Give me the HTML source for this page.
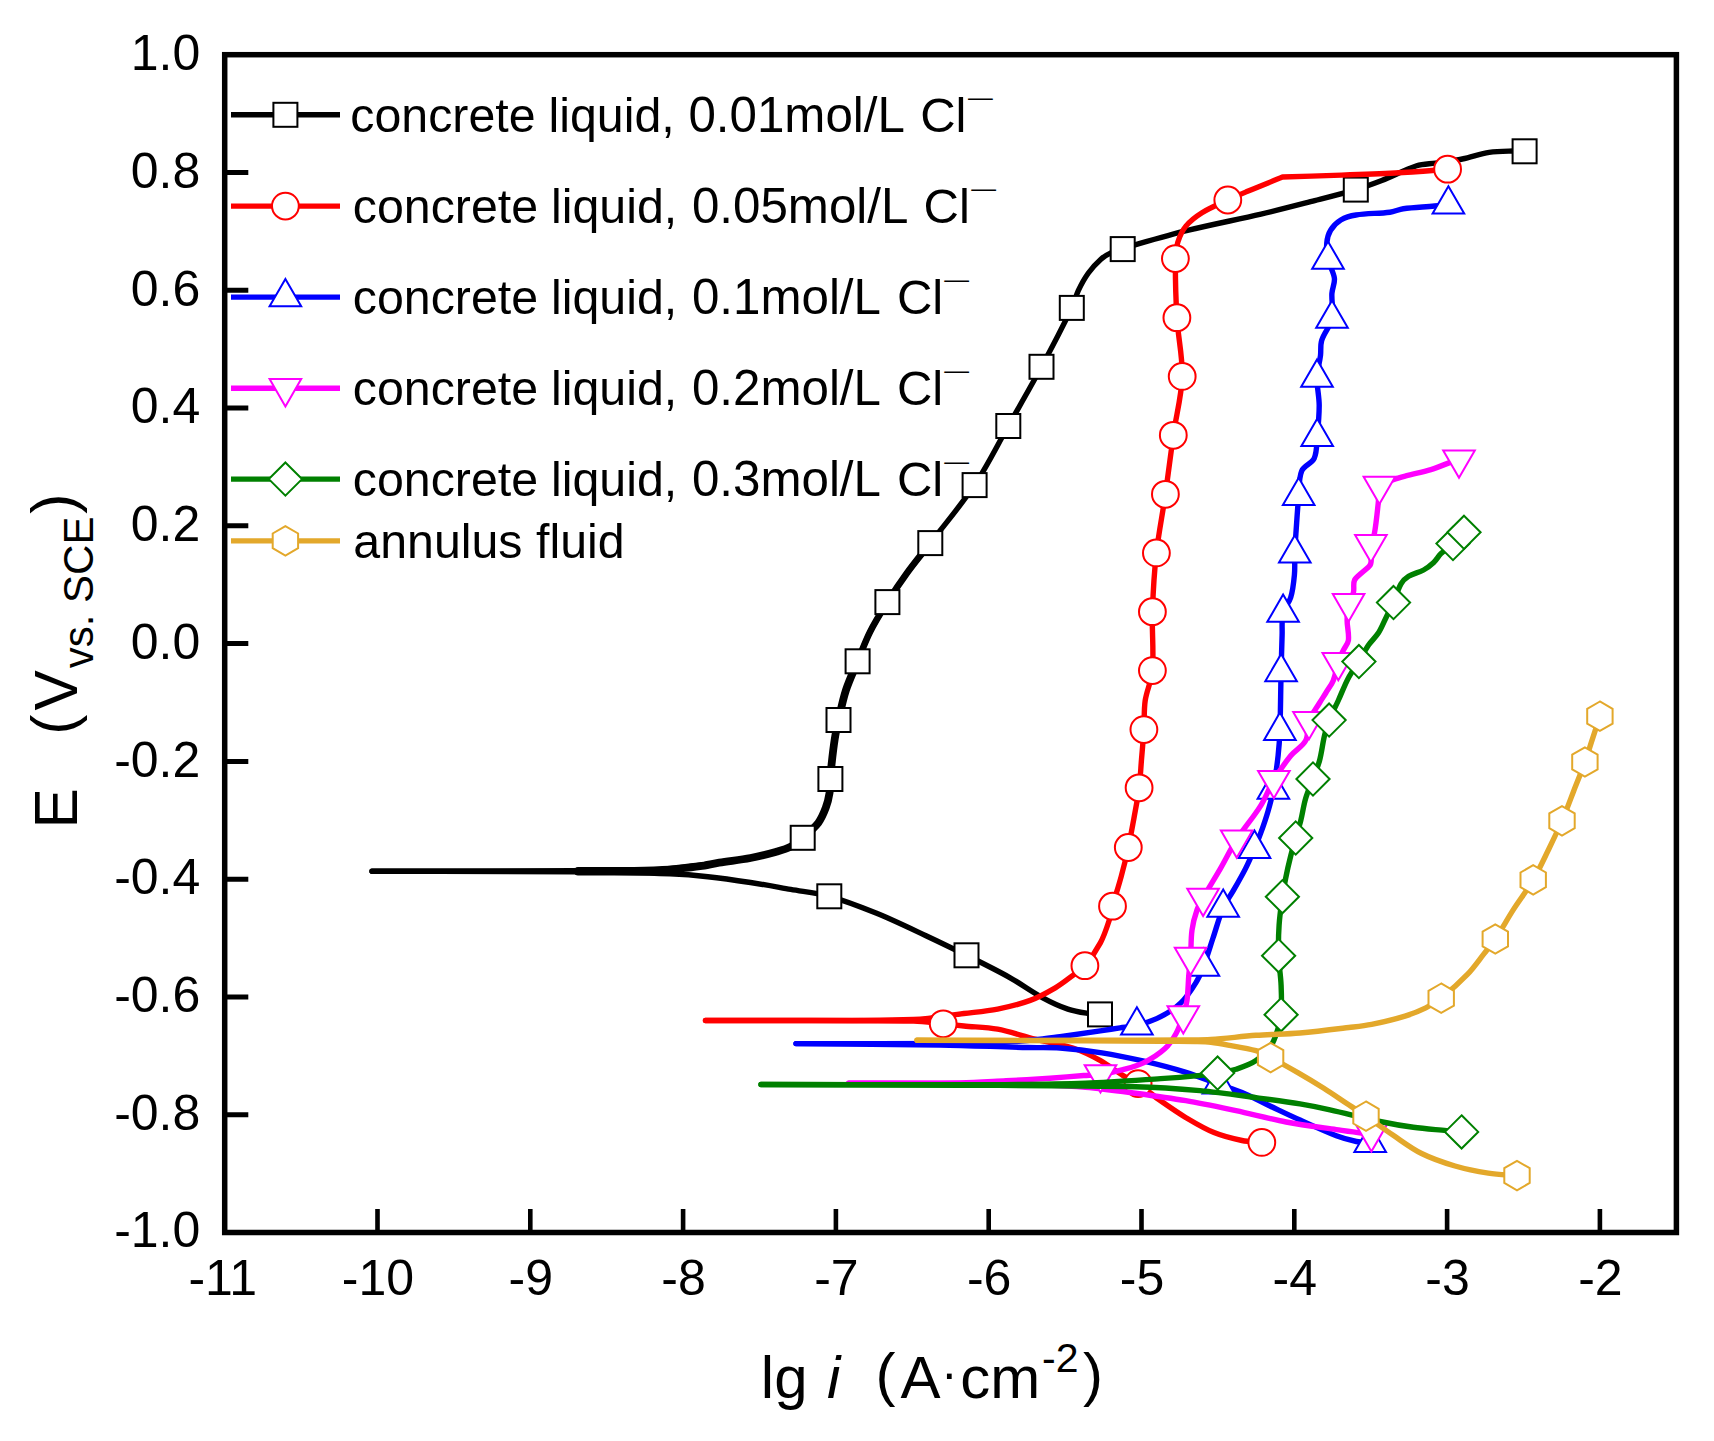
<!DOCTYPE html>
<html lang="en"><head><meta charset="utf-8"><title>Polarization curves</title>
<style>html,body{margin:0;padding:0;background:#fff}body{width:1714px;height:1441px;overflow:hidden}svg{display:block}text{font-family:"Liberation Sans",sans-serif;fill:#000}.tk{font-size:50px}.lg{font-size:49px}.ax{font-size:60px}.sub{font-size:42px}.ln{fill:none;stroke-width:5.4;stroke-linejoin:round;stroke-linecap:round}.mk{fill:#fff;stroke-width:2.0;stroke-linejoin:miter}</style></head><body>
<svg width="1714" height="1441" viewBox="0 0 1714 1441">
<rect width="1714" height="1441" fill="#fff"/>
<g stroke="#000000">
<path class="ln" d="M372 871.2C439 871.4 506 871.2 573 871.8C605.3 872.1 637.7 872.6 670 873.8C682.7 874.3 695.3 875.3 707.9 876.7C722.1 878.2 736.3 880.3 750.5 882.5C763.9 884.5 777.3 887 790.7 889.3C803.6 891.6 816.7 892.8 829.3 896.3C845.2 900.7 860.7 906.8 876 913C893 919.9 909.4 927.9 926 935.7C939.6 942.1 953.1 948.6 966.5 955.3C981.2 962.6 995.9 969.8 1010.2 977.8C1021.3 984 1031.6 991.7 1042.8 997.8C1050.9 1002.2 1059.2 1006.1 1067.9 1009.1C1074.4 1011.3 1081.2 1012.3 1088 1013.4C1092 1014.1 1096 1014.1 1100 1014.4"/>
<path class="ln" d="M372 871.2C439 871 506 871.2 573 870.6C605.3 870.3 637.7 870.2 670 868.5C686.5 867.6 702.8 864.8 719.2 862.7C729.7 861.3 740.1 860 750.5 858C759 856.4 767.3 854.3 775.6 852C780.7 850.5 786 849.1 790.7 846.6C795.1 844.3 798.9 841 802.7 837.8C808.2 833.1 813.9 828.5 818.3 822.8C821.7 818.3 823.8 813 825.8 807.7C827.6 802.9 828.8 797.8 829.6 792.7C830.3 788.2 830.1 783.6 830.4 779C830.7 774.3 831 769.7 831.5 765C832.4 756.7 833.3 748.3 834.6 740C835.6 733.3 837 726.6 838.5 720C840.8 710 842.8 699.8 846 690C849.2 680.2 853.7 670.8 857.6 661.3C861.7 651.5 865.2 641.5 870 632C875.2 621.7 881.3 611.9 887.4 602.1C893.6 592.2 900.1 582.5 907 573C914.4 562.8 922.6 553.1 930.3 543.1C945.1 523.8 961.1 505.3 974.6 485.1C987.2 466.2 997.1 445.7 1008.3 426C1019.4 406.3 1030.8 386.7 1041.5 366.8C1052 347.4 1062.2 327.8 1071.8 307.9C1074.5 302.4 1075.7 296.2 1078.3 290.6C1081.2 284.5 1084.4 278.5 1088.4 273C1092 268 1096.3 263.3 1100.9 259.2C1103.8 256.6 1107.3 254.6 1110.9 252.9C1114.6 251.2 1118.8 250.4 1122.7 249.1C1126.8 247.7 1130.8 246.1 1134.9 244.9C1152.7 239.8 1170.6 234.6 1188.6 230.2C1212.6 224.3 1236.9 219.7 1261 214.1C1279 209.9 1296.8 205.2 1314.7 200.6C1328.4 197.1 1342.2 193.7 1355.8 189.6C1364.6 187 1373.2 183.8 1381.8 180.5C1393.6 175.9 1404.7 169.7 1416.7 165.8C1422.7 163.8 1429.2 164 1435.5 163.1C1444.4 161.8 1453.4 160.8 1462.3 159C1471.4 157.2 1480.1 153.7 1489.2 152.3C1497.1 151.1 1505.3 151.2 1513.3 151C1517.1 150.9 1520.8 151.2 1524.6 151.3"/>
<path class="ln" style="stroke-width:7.8" d="M668 869.8C678.7 868.6 689.4 867.7 700 866.2C706.4 865.3 712.8 863.7 719.2 862.7C729.6 861 740.1 860 750.5 858C759 856.4 767.3 854.3 775.6 852C780.7 850.5 786 849.1 790.7 846.6C795.1 844.3 798.9 841 802.7 837.8C808.2 833.1 813.9 828.5 818.3 822.8C821.7 818.3 823.8 813 825.8 807.7C827.6 802.9 828.8 797.8 829.6 792.7C830.3 788.2 830.1 783.6 830.4 779C830.7 774.3 831 769.7 831.5 765C832.4 756.7 833.3 748.3 834.6 740C835.6 733.3 837 726.6 838.5 720C840.8 710 842.8 699.8 846 690C849.2 680.2 853.7 670.9 857.6 661.3"/>
<path class="ln" style="stroke-width:6.6" d="M857.6 661.3C861.7 651.5 865.2 641.5 870 632C875.2 621.7 881.3 611.9 887.4 602.1C893.6 592.2 900.1 582.5 907 573C914.4 562.8 922.5 553.1 930.3 543.1"/>
<path class="ln" style="stroke-width:8.4" d="M578 871.2H668"/>
<g class="mk"><rect x="817.3" y="884.3" width="24" height="24"/><rect x="954.5" y="943.3" width="24" height="24"/><rect x="1088" y="1002.4" width="24" height="24"/><rect x="790.7" y="825.8" width="24" height="24"/><rect x="818.4" y="767" width="24" height="24"/><rect x="826.5" y="708" width="24" height="24"/><rect x="845.6" y="649.3" width="24" height="24"/><rect x="875.4" y="590.1" width="24" height="24"/><rect x="918.3" y="531.1" width="24" height="24"/><rect x="962.6" y="473.1" width="24" height="24"/><rect x="996.3" y="414" width="24" height="24"/><rect x="1029.5" y="354.8" width="24" height="24"/><rect x="1059.8" y="295.9" width="24" height="24"/><rect x="1110.7" y="237.1" width="24" height="24"/><rect x="1343.8" y="177.6" width="24" height="24"/><rect x="1512.6" y="139.3" width="24" height="24"/></g>
</g>
<g stroke="#FF0000">
<path class="ln" d="M705.5 1020.5C774.9 1020.7 844.2 1020 913.6 1021C923.5 1021.1 933.3 1022.8 943.2 1023.8C950.1 1024.5 956.9 1025.3 963.8 1026C975.1 1027.1 986.5 1027.1 997.6 1029.2C1010.4 1031.6 1022.7 1036.1 1035.3 1039.2C1047.8 1042.3 1060.7 1044 1072.9 1048C1082.5 1051.2 1091.6 1055.7 1100.5 1060.6C1108.4 1065 1115.4 1070.9 1123.1 1075.6C1127.9 1078.6 1133.3 1080.6 1138.1 1083.6C1142.7 1086.5 1146.7 1090.1 1151 1093.4C1153.4 1095.2 1155.5 1097.3 1158 1099C1167.2 1105.4 1176.4 1111.9 1186 1117.7C1195.1 1123.1 1204.2 1128.6 1214 1132.6C1223 1136.3 1232.5 1138.6 1242 1140.5C1248.5 1141.8 1255.2 1141.8 1261.8 1142.4"/>
<path class="ln" d="M705.5 1020.5C774.9 1020.2 844.3 1021.4 913.6 1019.5C930.4 1019 947.1 1015.6 963.8 1013.5C975.1 1012.1 986.5 1011.3 997.6 1009.1C1008.6 1006.9 1019.6 1004.3 1030.2 1000.4C1039 997.2 1047.2 992.5 1055.3 987.8C1061.5 984.2 1067.1 979.6 1072.9 975.3C1077 972.2 1081.6 969.6 1084.9 965.7C1090.9 958.6 1096.1 950.8 1100.5 942.6C1104.3 935.5 1106.8 927.7 1109.3 920C1110.8 915.5 1111.3 910.8 1112.5 906.2C1115.3 896.1 1118.6 886.2 1121.3 876.1C1123.9 866.6 1126.2 857.1 1128.3 847.5C1130.4 837.8 1132.1 828.1 1133.9 818.4C1135.7 808.2 1137.8 798.1 1139.1 787.8C1140.3 778.8 1140.7 769.7 1141.4 760.7C1142.3 750.3 1143.2 740 1143.9 729.6C1144.5 719.9 1143.8 710.1 1145.2 700.5C1146.7 690.4 1151.6 680.8 1152.4 670.6C1154 651 1151.7 631.3 1152.4 611.7C1153.1 592.1 1154.2 572.4 1156.4 552.9C1158.6 533.3 1162.6 513.9 1165.4 494.3C1168.2 474.7 1170.5 454.9 1173.3 435.3C1176.1 415.6 1181.6 396.2 1182.2 376.4C1182.8 356.8 1178 337.3 1176.9 317.7C1175.8 298 1175.2 278.3 1175.4 258.6C1175.5 253.1 1176.1 247.5 1177.8 242.2C1179.6 236.5 1182.1 230.7 1185.9 226.1C1190.3 220.7 1196.1 216.4 1202 212.7C1210.1 207.6 1219.1 204.1 1227.8 200C1234.3 196.9 1241 194.1 1247.6 191.3C1259.2 186.4 1270.9 181.8 1282.5 177C1302.2 176.4 1321.8 175.8 1341.5 175.1C1359.4 174.5 1377.3 173.9 1395.2 173C1408.6 172.3 1422.1 171.3 1435.5 170.3C1439.5 170 1443.6 169.6 1447.6 169.2"/>
<g class="mk"><circle cx="943.2" cy="1023.8" r="13.4"/><circle cx="1138.1" cy="1083.6" r="13.4"/><circle cx="1261.8" cy="1142.4" r="13.4"/><circle cx="1084.9" cy="965.7" r="13.4"/><circle cx="1112.5" cy="906.2" r="13.4"/><circle cx="1128.3" cy="847.5" r="13.4"/><circle cx="1139.1" cy="787.8" r="13.4"/><circle cx="1143.9" cy="729.6" r="13.4"/><circle cx="1152.4" cy="670.6" r="13.4"/><circle cx="1152.4" cy="611.7" r="13.4"/><circle cx="1156.4" cy="552.9" r="13.4"/><circle cx="1165.4" cy="494.3" r="13.4"/><circle cx="1173.3" cy="435.3" r="13.4"/><circle cx="1182.2" cy="376.4" r="13.4"/><circle cx="1176.9" cy="317.7" r="13.4"/><circle cx="1175.4" cy="258.6" r="13.4"/><circle cx="1227.8" cy="200" r="13.4"/><circle cx="1447.6" cy="169.2" r="13.4"/></g>
</g>
<g stroke="#0000FF">
<path class="ln" d="M796 1043.6C844 1044.1 892 1044.2 940 1045C969.3 1045.5 998.7 1046.8 1028 1047.5C1038.7 1047.8 1049.4 1047.2 1060 1048C1074.1 1049 1088.1 1050.6 1102 1052.8C1116.1 1055 1130.1 1058 1144 1061.2C1158.1 1064.5 1172.2 1068.1 1186 1072.4C1197 1075.8 1207.6 1080.4 1218.4 1084.3C1226.2 1087.1 1234.3 1089.3 1242 1092.5C1251.6 1096.5 1260.6 1101.6 1270 1106C1280 1110.7 1289.9 1115.5 1300 1120C1312 1125.4 1324 1131.1 1336.3 1135.8C1342.8 1138.3 1349.6 1140.1 1356.4 1141.5C1360.9 1142.4 1365.6 1142.4 1370.2 1142.8"/>
<path class="ln" d="M796 1043.6C850.7 1043.6 905.3 1043.8 960 1043.5C973.3 1043.4 986.7 1043.2 1000 1042.5C1013.4 1041.8 1026.7 1040.6 1040 1039.3C1046.7 1038.7 1053.3 1037.6 1060 1036.7C1074 1034.7 1088 1032.7 1102 1030.6C1108 1029.7 1114 1028.8 1120 1027.9C1125.6 1027.1 1131.4 1026.9 1136.9 1025.4C1145 1023.2 1153.2 1020.6 1160.7 1016.7C1167.9 1013 1175 1008.5 1180.8 1002.9C1186.8 997.1 1191.4 989.9 1195.8 982.8C1198.9 977.8 1201.3 972.2 1203.4 966.7C1207 957.3 1209.8 947.6 1213 938C1216.4 927.9 1219 917.5 1223.2 907.7C1225.7 901.8 1229.8 896.8 1233 891.2C1237.3 883.7 1241.6 876.3 1245.5 868.6C1248.8 862.1 1251.6 855.5 1254.5 848.8C1256.7 843.7 1258.7 838.6 1260.6 833.4C1263.3 826 1265.9 818.5 1268.1 810.9C1270.2 803.9 1272.1 796.8 1273.4 789.6C1275.4 778.4 1276.8 767 1278.1 755.7C1279 747.4 1279.6 739.1 1279.9 730.8C1280.6 711.2 1280.6 691.7 1281.1 672.1C1281.4 659.8 1281.7 647.6 1282.1 635.3C1282.4 627.8 1281.4 620.1 1283.1 612.7C1284.4 607.2 1289.1 603 1290.7 597.6C1292.9 590.3 1293.7 582.6 1294.4 575C1295.1 567.9 1294.5 560.7 1294.8 553.5C1295 546.9 1295.5 540.2 1295.9 533.6C1296.8 521.1 1297.5 508.5 1298.7 496C1299.5 487.6 1298.5 478.7 1301.7 470.9C1303.9 465.4 1311.7 463.7 1314.2 458.3C1317.2 451.8 1316.5 444.1 1317.2 437C1318.2 426.6 1319.2 416.1 1319.2 405.6C1319.2 396.2 1316.8 387 1317 377.6C1317.2 370.1 1319.6 362.9 1320.5 355.5C1321.1 350.5 1320.2 345.2 1321.7 340.4C1324.1 332.7 1330.3 326.5 1332 318.6C1333.8 310.4 1331.4 301.9 1331.9 293.5C1332.2 288.4 1335 283.4 1334.4 278.3C1333.6 271.8 1329.4 266 1328 259.6C1326.8 254.1 1326.3 248.4 1326.8 242.8C1327.2 238.4 1328.3 233.9 1330.6 230.2C1333.1 226.1 1336.7 222.5 1340.8 220C1345.4 217.3 1350.7 215.8 1356 215C1367.2 213.2 1378.7 213.7 1389.9 212.2C1394.5 211.6 1398.7 209.3 1403.3 208.7C1413.6 207.3 1424.1 207 1434.5 206C1439.1 205.6 1443.8 204.9 1448.4 204.4"/>
<g class="mk"><path d="M1218.4 1066.1L1234.2 1093.4L1202.6 1093.4Z"/><path d="M1370.2 1124.6L1386 1151.9L1354.4 1151.9Z"/><path d="M1136.9 1007.2L1152.7 1034.5L1121.1 1034.5Z"/><path d="M1203.4 948.5L1219.2 975.8L1187.6 975.8Z"/><path d="M1223.2 889.5L1239 916.8L1207.4 916.8Z"/><path d="M1254.5 830.6L1270.3 857.9L1238.7 857.9Z"/><path d="M1273.4 771.4L1289.2 798.7L1257.6 798.7Z"/><path d="M1279.9 712.6L1295.7 739.9L1264.1 739.9Z"/><path d="M1281.1 653.9L1296.9 681.2L1265.3 681.2Z"/><path d="M1283.1 594.5L1298.9 621.8L1267.3 621.8Z"/><path d="M1294.8 535.3L1310.6 562.6L1279 562.6Z"/><path d="M1298.7 477.8L1314.5 505.1L1282.9 505.1Z"/><path d="M1317.2 418.8L1333 446.1L1301.4 446.1Z"/><path d="M1317 359.4L1332.8 386.7L1301.2 386.7Z"/><path d="M1332 300.4L1347.8 327.7L1316.2 327.7Z"/><path d="M1328 241.4L1343.8 268.7L1312.2 268.7Z"/><path d="M1448.4 186.2L1464.2 213.5L1432.6 213.5Z"/></g>
</g>
<g stroke="#FF00FF">
<path class="ln" d="M848.7 1083.1C885.8 1083.2 922.9 1083 960 1083.4C988.7 1083.7 1017.3 1084.1 1046 1085C1059.1 1085.4 1072.3 1086 1085.4 1087.2C1102.2 1088.7 1118.9 1091 1135.6 1093.2C1152.4 1095.5 1169.1 1097.8 1185.8 1100.7C1202.6 1103.6 1219.3 1107.2 1236 1110.7C1252.7 1114.3 1269.3 1118.8 1286.1 1122C1302.7 1125.1 1319.6 1127.2 1336.3 1129.6C1344.7 1130.8 1353 1132.1 1361.4 1133C1364.7 1133.3 1368.1 1133.2 1371.4 1133.3"/>
<path class="ln" d="M848.7 1083.1C885.8 1083.1 922.9 1083.5 960 1083C975.3 1082.8 990.7 1081.6 1006 1080.8C1020.7 1080 1035.3 1079.2 1050 1078.2C1061.2 1077.4 1072.5 1076.3 1083.7 1075.5C1089.3 1075.1 1095 1075.2 1100.5 1074.4C1108.1 1073.3 1115.6 1071.6 1123 1069.6C1130.1 1067.7 1137.4 1065.9 1144 1062.6C1151.5 1058.8 1158.8 1054.3 1165 1048.6C1169.7 1044.3 1173.1 1038.8 1176.2 1033.2C1179.3 1027.6 1181.3 1021.5 1183.3 1015.4C1184.9 1010.5 1186.3 1005.5 1187 1000.4C1188.1 992.1 1188.1 983.7 1188.8 975.3C1189.3 969.2 1190.2 963 1190.6 956.9C1191.2 948 1190.8 939 1192 930.1C1192.9 923.3 1194.7 916.5 1197 910C1198.5 905.7 1200.9 901.8 1203.1 897.9C1208.7 888 1214.7 878.4 1220.4 868.6C1225.9 859 1230.7 848.9 1236.7 839.5C1244.1 827.9 1253.3 817.6 1260.6 805.9C1265.7 797.7 1268.9 788.3 1273.9 780C1279 771.6 1284.5 763.4 1290.7 755.7C1295.2 750.2 1302.4 746.9 1305.7 740.6C1308.8 734.8 1306.7 727.3 1309 721.1C1311.4 714.6 1315.9 709 1319.5 703C1321.5 699.6 1323.7 696.4 1325.8 693C1328.3 688.8 1331.5 684.9 1333.3 680.4C1335.7 674.5 1336.3 668.1 1338.3 662.1C1339.6 658 1341.5 654.2 1343.3 650.3C1344.9 646.9 1347.9 644 1348.4 640.3C1349.2 633.6 1347.1 626.9 1347.1 620.2C1347.1 614.5 1347.3 608.7 1348.6 603.2C1349.5 599.4 1352.4 596.4 1353.4 592.6C1354.5 588.5 1352.8 583.8 1354.6 580C1356.4 576.3 1360.5 574.2 1363.4 571.3C1365.9 568.8 1369.8 567.1 1370.7 563.7C1372.4 557.4 1370.1 550.6 1370.9 544.1C1371.4 540.4 1373.7 537.2 1374.4 533.6C1376.2 523.6 1377.1 513.6 1378.2 503.5C1378.8 497.7 1379 491.8 1379.4 485.9C1384 483.8 1388.5 481.5 1393.2 479.7C1397.3 478.1 1401.6 477 1405.8 475.9C1414.1 473.7 1422.6 472.1 1430.9 469.6C1437.7 467.5 1444.3 464.5 1451 462.1C1453.6 461.2 1456.3 460.4 1459 459.6"/>
<g class="mk"><path d="M1371.4 1151.5L1387.2 1124.2L1355.6 1124.2Z"/><path d="M1100.5 1092.6L1116.3 1065.3L1084.7 1065.3Z"/><path d="M1183.3 1033.6L1199.1 1006.3L1167.5 1006.3Z"/><path d="M1190.6 975.1L1206.4 947.8L1174.8 947.8Z"/><path d="M1203.1 916.1L1218.9 888.8L1187.3 888.8Z"/><path d="M1236.7 857.7L1252.5 830.4L1220.9 830.4Z"/><path d="M1273.9 798.2L1289.7 770.9L1258.1 770.9Z"/><path d="M1309 739.3L1324.8 712L1293.2 712Z"/><path d="M1338.3 680.3L1354.1 653L1322.5 653Z"/><path d="M1348.6 621.4L1364.4 594.1L1332.8 594.1Z"/><path d="M1370.9 562.3L1386.7 535L1355.1 535Z"/><path d="M1379.4 504.1L1395.2 476.8L1363.6 476.8Z"/><path d="M1459 477.8L1474.8 450.5L1443.2 450.5Z"/></g>
</g>
<g stroke="#008000">
<path class="ln" d="M761 1084.5C827.3 1084.7 893.7 1084.8 960 1085.2C1018.5 1085.5 1077.1 1085.4 1135.6 1086.7C1157.1 1087.2 1178.6 1088.7 1200 1090.6C1218.7 1092.3 1237.4 1095.1 1256 1097.6C1270.7 1099.6 1285.4 1101.5 1300 1103.9C1310.1 1105.6 1320 1107.6 1330 1109.8C1346.7 1113.5 1363.2 1118 1380 1121.5C1391 1123.8 1402.1 1125.8 1413.3 1127.3C1424.4 1128.8 1435.5 1129.5 1446.6 1130.6C1451.6 1131.1 1456.6 1131.5 1461.6 1131.9"/>
<path class="ln" d="M761 1084.5C827.3 1084.6 893.7 1085.1 960 1084.8C1001.8 1084.6 1043.6 1084.4 1085.4 1083.1C1110.5 1082.3 1135.6 1080.3 1160.7 1078.6C1173.2 1077.8 1185.8 1076.8 1198.3 1075.6C1204.8 1075 1211.2 1074.2 1217.6 1073.1C1223.8 1072.1 1230 1071.2 1236 1069.3C1242.9 1067 1250 1064.7 1256 1060.6C1261.9 1056.6 1267 1051.3 1271.1 1045.5C1274.2 1041.1 1275.7 1035.7 1277.4 1030.5C1279.1 1025.4 1280.7 1020.1 1281.1 1014.7C1281.9 1004.9 1281.5 995.1 1281.1 985.3C1280.7 975.4 1278.9 965.6 1278.6 955.7C1278.3 945.5 1278.4 935.3 1279.1 925.1C1279.7 915.6 1281.1 906.1 1282.4 896.7C1283.2 890.6 1284.4 884.6 1285.6 878.6C1287.1 871 1288.8 863.5 1290.7 856C1292.2 850 1294 844 1295.7 838C1297.3 832.3 1299.2 826.7 1300.7 820.9C1302.6 813.4 1303.5 805.7 1305.7 798.3C1307.6 791.7 1310.6 785.5 1313 779C1315.2 772.9 1317.8 767 1319.5 760.7C1321.7 752.5 1322.5 743.9 1324.5 735.6C1325.7 730.4 1327.1 725.1 1329.1 720.1C1331.7 713.4 1335.3 707.1 1338.3 700.5C1341.7 693 1344.5 685.2 1348.4 677.9C1351.4 672.2 1355.5 667.1 1358.9 661.6C1362.2 656.2 1364.9 650.5 1368.4 645.3C1371.4 640.9 1375.6 637.3 1378.5 632.8C1381.5 628.1 1383.5 622.7 1386 617.7C1388.5 612.7 1391.2 607.7 1393.5 602.6C1396.2 596.4 1397.6 589.7 1401 583.8C1402.8 580.7 1405.6 578.2 1408.6 576.3C1413.2 573.5 1418.8 572.6 1423.6 570C1427.3 568 1430.6 565.4 1433.7 562.5C1436.5 559.9 1438.2 556.4 1440.9 553.7C1444.7 550 1449.1 547.2 1453 543.6C1456.9 540 1460.3 536.1 1464 532.3"/>
<g class="mk"><path d="M1461.6 1115.3L1478.2 1131.9L1461.6 1148.5L1445 1131.9Z"/><path d="M1217.6 1056.5L1234.2 1073.1L1217.6 1089.7L1201 1073.1Z"/><path d="M1281.1 998.1L1297.7 1014.7L1281.1 1031.3L1264.5 1014.7Z"/><path d="M1278.6 939.1L1295.2 955.7L1278.6 972.3L1262 955.7Z"/><path d="M1282.4 880.1L1299 896.7L1282.4 913.3L1265.8 896.7Z"/><path d="M1295.7 821.4L1312.3 838L1295.7 854.6L1279.1 838Z"/><path d="M1313 762.4L1329.6 779L1313 795.6L1296.4 779Z"/><path d="M1329.1 703.5L1345.7 720.1L1329.1 736.7L1312.5 720.1Z"/><path d="M1358.9 645L1375.5 661.6L1358.9 678.2L1342.3 661.6Z"/><path d="M1393.5 586L1410.1 602.6L1393.5 619.2L1376.9 602.6Z"/><path d="M1453 527L1469.6 543.6L1453 560.2L1436.4 543.6Z"/><path d="M1464 515.7L1480.6 532.3L1464 548.9L1447.4 532.3Z"/></g>
</g>
<g stroke="#E3A82B">
<path class="ln" d="M917 1040.3C973.1 1040.5 1029.3 1040.6 1085.4 1040.8C1110.5 1040.9 1135.6 1041 1160.7 1041.2C1172.1 1041.3 1183.6 1041.4 1195 1041.6C1200.3 1041.7 1205.7 1041.7 1211 1042.3C1216.7 1042.9 1222.4 1044 1228 1045.1C1237.4 1046.8 1246.9 1048 1256 1050.7C1261.2 1052.2 1265.8 1055.1 1270.6 1057.6C1280.1 1062.6 1289.4 1067.8 1298.7 1073.1C1307.2 1078 1315.5 1083 1323.8 1088.2C1331.4 1093 1338.9 1098.2 1346.4 1103.2C1352.9 1107.5 1359.5 1111.8 1366 1116.2C1374.9 1122.3 1383.5 1128.8 1392.5 1134.8C1402.1 1141.2 1411.3 1148.4 1421.6 1153.5C1432.2 1158.8 1443.6 1162.6 1455 1166C1465.9 1169.2 1477.1 1171.4 1488.3 1173.1C1497.8 1174.6 1507.4 1174.8 1517 1175.6"/>
<path class="ln" d="M917 1040.3C931.3 1040.3 945.7 1040.4 960 1040.4C1001.8 1040.4 1043.6 1040.4 1085.4 1040.3C1118.9 1040.2 1152.3 1040.2 1185.8 1040C1194.2 1039.9 1202.6 1040.1 1211 1039.5C1226 1038.5 1241 1036.4 1256 1035.3C1270.6 1034.2 1285.4 1034.2 1300 1033C1316.3 1031.6 1332.6 1029.5 1348.9 1027.5C1356.5 1026.6 1364.1 1025.9 1371.6 1024.4C1382.8 1022.1 1394 1019.5 1405 1016.1C1412.1 1013.9 1419.1 1011.1 1425.8 1007.8C1431.2 1005.1 1436.5 1002 1441.2 998.2C1450.4 990.8 1459.2 982.9 1467.4 974.4C1473.6 968 1478.6 960.6 1484.1 953.6C1487.9 948.8 1491.9 944.1 1495.3 939C1501.6 929.5 1507.1 919.5 1513.2 909.9C1519.7 899.8 1527.1 890.3 1533.2 879.9C1538.9 870.1 1543.6 859.7 1548.6 849.5C1553.2 840 1557.8 830.5 1562 820.8C1566.2 811.1 1569.8 801.1 1573.6 791.2C1577.4 781.5 1581.4 771.8 1584.9 762C1587.6 754.4 1589.9 746.7 1592.4 739.1C1594.9 731.5 1597.4 723.8 1599.9 716.2"/>
<g class="mk"><path d="M1270.6 1042.9L1257.9 1050.2L1257.9 1064.9L1270.6 1072.3L1283.3 1064.9L1283.3 1050.2Z"/><path d="M1366 1101.5L1353.3 1108.9L1353.3 1123.5L1366 1130.9L1378.7 1123.5L1378.7 1108.9Z"/><path d="M1517 1160.9L1504.3 1168.2L1504.3 1182.9L1517 1190.3L1529.7 1182.9L1529.7 1168.2Z"/><path d="M1441.2 983.5L1428.5 990.9L1428.5 1005.6L1441.2 1012.9L1453.9 1005.6L1453.9 990.9Z"/><path d="M1495.3 924.3L1482.6 931.6L1482.6 946.4L1495.3 953.7L1508 946.4L1508 931.6Z"/><path d="M1533.2 865.2L1520.5 872.5L1520.5 887.2L1533.2 894.6L1545.9 887.2L1545.9 872.5Z"/><path d="M1562 806.1L1549.3 813.4L1549.3 828.1L1562 835.5L1574.7 828.1L1574.7 813.4Z"/><path d="M1584.9 747.3L1572.2 754.6L1572.2 769.4L1584.9 776.7L1597.6 769.4L1597.6 754.6Z"/><path d="M1599.9 701.5L1587.2 708.9L1587.2 723.6L1599.9 730.9L1612.6 723.6L1612.6 708.9Z"/></g>
</g>
<g stroke="#000" fill="none">
<rect x="224.7" y="54.7" width="1451.7" height="1177.8" stroke-width="5.5"/>
<path d="M224.7 172.5H248.3M224.7 290.3H248.3M224.7 408H248.3M224.7 525.8H248.3M224.7 643.6H248.3M224.7 761.4H248.3M224.7 879.2H248.3M224.7 996.9H248.3M224.7 1114.7H248.3" stroke-width="5"/>
<path d="M377.5 1232.5V1209M530.3 1232.5V1209M683.1 1232.5V1209M835.9 1232.5V1209M988.7 1232.5V1209M1141.5 1232.5V1209M1294.3 1232.5V1209M1447.1 1232.5V1209M1599.9 1232.5V1209" stroke-width="4.6"/>
</g>
<g class="tk" text-anchor="end">
<text x="200.3" y="69.9">1.0</text>
<text x="200.3" y="187.7">0.8</text>
<text x="200.3" y="305.5">0.6</text>
<text x="200.3" y="423.2">0.4</text>
<text x="200.3" y="541">0.2</text>
<text x="200.3" y="658.8">0.0</text>
<text x="200.3" y="776.6">-0.2</text>
<text x="200.3" y="894.4">-0.4</text>
<text x="200.3" y="1012.1">-0.6</text>
<text x="200.3" y="1129.9">-0.8</text>
<text x="200.3" y="1246.5">-1.0</text>
</g>
<g class="tk" text-anchor="middle">
<text x="222.7" y="1295">-11</text>
<text x="378" y="1295">-10</text>
<text x="530.8" y="1295">-9</text>
<text x="683.6" y="1295">-8</text>
<text x="836.4" y="1295">-7</text>
<text x="989.2" y="1295">-6</text>
<text x="1142" y="1295">-5</text>
<text x="1294.8" y="1295">-4</text>
<text x="1447.6" y="1295">-3</text>
<text x="1600.4" y="1295">-2</text>
</g>
<g stroke="#000000"><path class="ln" style="stroke-linecap:butt" d="M231 114.8H340"/><g class="mk"><rect x="273.4" y="102.8" width="24" height="24"/></g></g>
<text y="131.5"><tspan x="350.3" font-size="48.3">concrete</tspan> <tspan x="548.5" font-size="48.3">liquid,</tspan> <tspan x="688.4" font-size="49.3">0.01mol/L</tspan> <tspan x="920.2" font-size="49">Cl</tspan><tspan x="968.1" y="105.4" font-size="24.8">—</tspan></text>
<g stroke="#FF0000"><path class="ln" style="stroke-linecap:butt" d="M231 206.1H340"/><g class="mk"><circle cx="285.4" cy="206.1" r="13.4"/></g></g>
<text y="222.8"><tspan x="352.8" font-size="48.3">concrete</tspan> <tspan x="551" font-size="48.3">liquid,</tspan> <tspan x="691.9" font-size="49.3">0.05mol/L</tspan> <tspan x="923.6" font-size="49">Cl</tspan><tspan x="971.3" y="196.2" font-size="24.8">—</tspan></text>
<g stroke="#0000FF"><path class="ln" style="stroke-linecap:butt" d="M231 297.1H340"/><g class="mk"><path d="M285.4 278.9L301.2 306.2L269.6 306.2Z"/></g></g>
<text y="313.8"><tspan x="352.8" font-size="48.3">concrete</tspan> <tspan x="551" font-size="48.3">liquid,</tspan> <tspan x="691.9" font-size="49.3">0.1mol/L</tspan> <tspan x="896.9" font-size="49">Cl</tspan><tspan x="944.2" y="286.7" font-size="24.8">—</tspan></text>
<g stroke="#FF00FF"><path class="ln" style="stroke-linecap:butt" d="M231 388.2H340"/><g class="mk"><path d="M285.4 406.4L301.2 379.1L269.6 379.1Z"/></g></g>
<text y="404.8"><tspan x="352.8" font-size="48.3">concrete</tspan> <tspan x="551" font-size="48.3">liquid,</tspan> <tspan x="691.9" font-size="49.3">0.2mol/L</tspan> <tspan x="896.9" font-size="49">Cl</tspan><tspan x="944.2" y="377.7" font-size="24.8">—</tspan></text>
<g stroke="#008000"><path class="ln" style="stroke-linecap:butt" d="M231 479.1H340"/><g class="mk"><path d="M285.4 462.5L302 479.1L285.4 495.7L268.8 479.1Z"/></g></g>
<text y="495.8"><tspan x="352.8" font-size="48.3">concrete</tspan> <tspan x="551" font-size="48.3">liquid,</tspan> <tspan x="691.9" font-size="49.3">0.3mol/L</tspan> <tspan x="896.9" font-size="49">Cl</tspan><tspan x="944.2" y="468.7" font-size="24.8">—</tspan></text>
<g stroke="#E3A82B"><path class="ln" style="stroke-linecap:butt" d="M231 540.9H340"/><g class="mk"><path d="M285.4 526.2L272.7 533.5L272.7 548.2L285.4 555.6L298.1 548.2L298.1 533.5Z"/></g></g>
<text y="557.6"><tspan x="353.3" font-size="48.3">annulus</tspan> <tspan x="536" font-size="48.3">fluid</tspan></text>
<text class="ax" y="1397.6"><tspan x="760.8">lg</tspan> <tspan x="826.9" font-style="italic">i</tspan> <tspan x="875.6" y="1395.2">(</tspan><tspan x="900.4" y="1397.6">A</tspan><tspan x="940.9" y="1389.8" font-size="50">·</tspan><tspan x="960.2" y="1397.6">cm</tspan><tspan x="1042" y="1372.2" font-size="41">-2</tspan><tspan x="1083" y="1395.2">)</tspan></text>
<text class="ax" transform="translate(77 0) rotate(-90)" font-size="60.5" style="font-size:60.5px" y="0"><tspan x="-828.6">E</tspan> <tspan x="-734.8" y="-3">(</tspan><tspan x="-710.4" y="0">V</tspan><tspan x="-668.3" y="15.8" style="font-size:42px">vs. SCE</tspan><tspan x="-513.8" y="-3">)</tspan></text>
</svg></body></html>
